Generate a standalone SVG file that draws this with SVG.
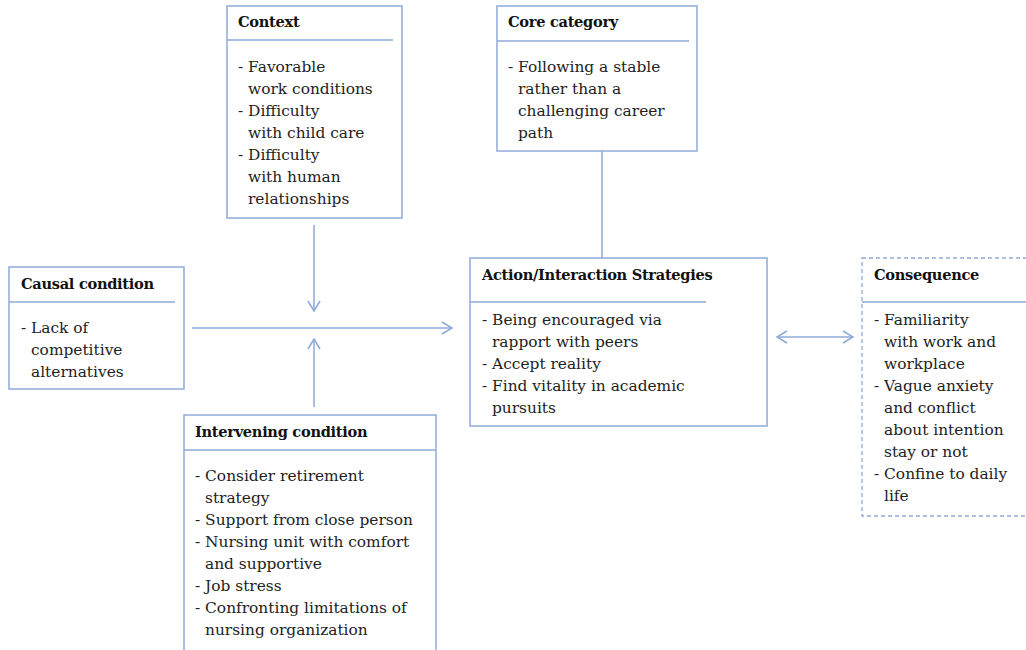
<svg xmlns="http://www.w3.org/2000/svg" width="1026" height="650" viewBox="0 0 1026 650">
<style>
.box{fill:#fff;stroke:#8eaad8;stroke-width:1.5}
.dash{fill:#fff;stroke:#8eaad8;stroke-width:1.3;stroke-dasharray:4 3}
.sep{stroke:#8eaad8;stroke-width:1.5}
.con{stroke:#8eaad8;stroke-width:1.5;fill:none}
text{font-family:"DejaVu Serif",serif;font-size:15.4px;fill:#222}
.t{font-weight:bold;font-size:14.6px;fill:#111;letter-spacing:-0.3px}
</style>
<defs>
<marker id="ah" markerWidth="14" markerHeight="14" refX="12" refY="7" orient="auto-start-reverse" markerUnits="userSpaceOnUse">
<path d="M2,1 L12,7 L2,13" fill="none" stroke="#8eaad8" stroke-width="1.5"/>
</marker>
</defs>
<rect width="1026" height="650" fill="#fff"/>
<g id="connectors">
<line class="con" x1="602" y1="151" x2="602" y2="258"/>
<line class="con" x1="192" y1="328" x2="452" y2="328" marker-end="url(#ah)"/>
<line class="con" x1="314" y1="225" x2="314" y2="311" marker-end="url(#ah)"/>
<line class="con" x1="314" y1="407" x2="314" y2="339" marker-end="url(#ah)"/>
<line class="con" x1="777" y1="337" x2="853" y2="337" marker-start="url(#ah)" marker-end="url(#ah)"/>
</g>
<g id="context">
<rect class="box" x="227" y="6" width="175" height="212"/>
<line class="sep" x1="227" y1="40" x2="393" y2="40"/>
<text class="t" x="238" y="27">Context</text>
<text x="238" y="72">- Favorable</text>
<text x="248" y="94">work conditions</text>
<text x="238" y="116">- Difficulty</text>
<text x="248" y="138">with child care</text>
<text x="238" y="160">- Difficulty</text>
<text x="248" y="182">with human</text>
<text x="248" y="204">relationships</text>
</g>
<g id="core">
<rect class="box" x="497" y="6" width="200" height="145"/>
<line class="sep" x1="497" y1="41" x2="689" y2="41"/>
<text class="t" x="508" y="27">Core category</text>
<text x="508" y="72">- Following a stable</text>
<text x="518" y="94">rather than a</text>
<text x="518" y="116">challenging career</text>
<text x="518" y="138">path</text>
</g>
<g id="causal">
<rect class="box" x="9" y="267" width="175" height="122"/>
<line class="sep" x1="9" y1="302" x2="175" y2="302"/>
<text class="t" x="21" y="289">Causal condition</text>
<text x="21" y="333">- Lack of</text>
<text x="31" y="355">competitive</text>
<text x="31" y="377">alternatives</text>
</g>
<g id="action">
<rect class="box" x="470" y="258" width="297" height="168"/>
<line class="sep" x1="470" y1="302" x2="706" y2="302"/>
<text class="t" x="482" y="280">Action/Interaction Strategies</text>
<text x="482" y="325">- Being encouraged via</text>
<text x="492" y="347">rapport with peers</text>
<text x="482" y="369">- Accept reality</text>
<text x="482" y="391">- Find vitality in academic</text>
<text x="492" y="413">pursuits</text>
</g>
<g id="consequence">
<rect class="dash" x="862" y="258" width="180" height="258"/>
<line class="sep" x1="862" y1="302" x2="1026" y2="302"/>
<text class="t" x="874" y="280">Consequence</text>
<text x="874" y="325">- Familiarity</text>
<text x="884" y="347">with work and</text>
<text x="884" y="369">workplace</text>
<text x="874" y="391">- Vague anxiety</text>
<text x="884" y="413">and conflict</text>
<text x="884" y="435">about intention</text>
<text x="884" y="457">stay or not</text>
<text x="874" y="479">- Confine to daily</text>
<text x="884" y="501">life</text>
</g>
<g id="intervening">
<rect class="box" x="184" y="415" width="252" height="250"/>
<line class="sep" x1="184" y1="450" x2="436" y2="450"/>
<text class="t" x="195" y="437">Intervening condition</text>
<text x="195" y="481">- Consider retirement</text>
<text x="205" y="503">strategy</text>
<text x="195" y="525">- Support from close person</text>
<text x="195" y="547">- Nursing unit with comfort</text>
<text x="205" y="569">and supportive</text>
<text x="195" y="591">- Job stress</text>
<text x="195" y="613">- Confronting limitations of</text>
<text x="205" y="635">nursing organization</text>
</g>
</svg>
